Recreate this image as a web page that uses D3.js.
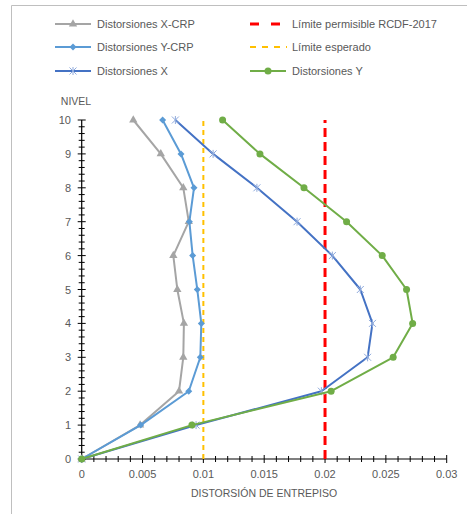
<!DOCTYPE html>
<html><head><meta charset="utf-8">
<script src="https://cdn.jsdelivr.net/npm/d3@7"></script>
<style>body{margin:0;background:#fff}svg{display:block}text{font-family:"Liberation Sans",Arial,sans-serif;fill:#595959}</style>
</head><body><div id="chart"></div>
<script>
const levels = [0,1,2,3,4,5,6,7,8,9,10];
const distXCRP = [0,0.0048,0.0080,0.00835,0.0084,0.00786,0.00753,0.0088,0.00835,0.0065,0.00424];
const distYCRP = [0,0.00485,0.0088,0.00975,0.00983,0.0095,0.00912,0.00885,0.00923,0.00816,0.00665];
const distX = [0,0.0094,0.0197,0.0235,0.0239,0.0229,0.0206,0.0177,0.0144,0.0108,0.0077];
const distY = [0,0.00906,0.0205,0.0256,0.0272,0.0267,0.0247,0.02177,0.01827,0.01465,0.01158];
const limitRCDF = [0.02,0.02];
const limitExpected = [0.01,0.01];
const limitLevels = [0,10];
const xTicks = [0,0.005,0.01,0.015,0.02,0.025,0.03];
const yTicks = [0,1,2,3,4,5,6,7,8,9,10];
const seriesNames = ["Distorsiones X-CRP","Distorsiones Y-CRP","Distorsiones X","Distorsiones Y","Límite permisible RCDF-2017","Límite esperado"];

const W=469,H=514;
const svg=d3.select("#chart").append("svg").attr("width",W).attr("height",H);
svg.append("path").attr("d","M11.5,514V5.5H467").attr("fill","none").attr("stroke","#bfbfbf").attr("stroke-width",1);

const x=d3.scaleLinear().domain([0,0.03]).range([81.7,446.7]);
const y=d3.scaleLinear().domain([0,10]).range([459,120]);

// axes
const ax=svg.append("g");
ax.append("line").attr("x1",x(0)).attr("x2",x(0.03)).attr("y1",y(0)).attr("y2",y(0)).attr("stroke","#000").attr("stroke-width",1.2);
ax.append("line").attr("x1",x(0)).attr("x2",x(0)).attr("y1",y(0)).attr("y2",y(10)).attr("stroke","#000").attr("stroke-width",1.2);
const xMinor=d3.range(0,31).map(i=>i*0.001);
ax.selectAll(".xm").data(xMinor).join("line").attr("x1",d=>x(d)).attr("x2",d=>x(d))
  .attr("y1",(d,i)=>y(0)-(i%5===0?4:3)).attr("y2",(d,i)=>y(0)+(i%5===0?4:3)).attr("stroke","#000").attr("stroke-width",1);
const yMinor=d3.range(0,51).map(i=>i*0.2);
ax.selectAll(".ym").data(yMinor).join("line").attr("y1",d=>y(d)).attr("y2",d=>y(d))
  .attr("x1",(d,i)=>x(0)-(i%5===0?4:3)).attr("x2",(d,i)=>x(0)+(i%5===0?4:3)).attr("stroke","#000").attr("stroke-width",1);
ax.selectAll(".xl").data(xTicks).join("text").attr("x",d=>x(d)).attr("y",478).attr("text-anchor","middle")
  .attr("font-size","11px").text(d=>d3.format("~g")(d));
ax.selectAll(".yl").data(yTicks).join("text").attr("x",71).attr("y",d=>y(d)+4).attr("text-anchor","end")
  .attr("font-size","11px").text(d=>d);
svg.append("text").attr("x",76).attr("y",105).attr("text-anchor","middle").attr("font-size","10.5px").text("NIVEL");
svg.append("text").attr("x",264).attr("y",497).attr("text-anchor","middle").attr("font-size","10.5px").text("DISTORSIÓN DE ENTREPISO");

// limit lines
const line=d3.line().x(d=>x(d[0])).y(d=>y(d[1]));
svg.append("path").attr("d",line(limitExpected.map((v,i)=>[v,limitLevels[i]]))).attr("fill","none")
  .attr("stroke","#ffc000").attr("stroke-width",2).attr("stroke-dasharray","5,4");
svg.append("path").attr("d",line(limitRCDF.map((v,i)=>[v,limitLevels[i]]))).attr("fill","none")
  .attr("stroke","#ff0000").attr("stroke-width",3).attr("stroke-dasharray","9,5");

const series=[
 {name:seriesNames[0],vals:distXCRP,color:"#a5a5a5",mcol:"#a5a5a5",marker:"tri"},
 {name:seriesNames[1],vals:distYCRP,color:"#5b9bd5",mcol:"#5b9bd5",marker:"dia"},
 {name:seriesNames[2],vals:distX,color:"#4472c4",mcol:"#8faadc",marker:"star"},
 {name:seriesNames[3],vals:distY,color:"#70ad47",mcol:"#70ad47",marker:"circ"}
];
function drawMarker(g,type,col){
  if(type==="tri") g.append("path").attr("d",d3.symbol(d3.symbolTriangle,30)()).attr("fill",col);
  else if(type==="dia") g.append("path").attr("d","M0,-3.5L3.5,0L0,3.5L-3.5,0Z").attr("fill",col);
  else if(type==="circ") g.append("circle").attr("r",3.5).attr("fill",col);
  else { g.append("path").attr("d","M-3.5,-3.5L3.5,3.5M-3.5,3.5L3.5,-3.5M0,-4V4").attr("stroke",col).attr("stroke-width",1); }
}
series.forEach(s=>{
  const pts=s.vals.map((v,i)=>[v,levels[i]]);
  svg.append("path").attr("d",line(pts)).attr("fill","none").attr("stroke",s.color).attr("stroke-width",2).attr("stroke-linejoin","round");
  pts.forEach(p=>{const g=svg.append("g").attr("transform",`translate(${x(p[0])},${y(p[1])})`);drawMarker(g,s.marker,s.mcol);});
});

// legend
const leg=[
 {s:series[0],lx:55,ty:24},{s:series[1],lx:55,ty:47},{s:series[2],lx:55,ty:71},
 {s:series[3],lx:250,ty:71}
];
leg.forEach(l=>{
  svg.append("line").attr("x1",l.lx).attr("x2",l.lx+36).attr("y1",l.ty).attr("y2",l.ty).attr("stroke",l.s.color).attr("stroke-width",2);
  const g=svg.append("g").attr("transform",`translate(${l.lx+18},${l.ty})`);drawMarker(g,l.s.marker,l.s.mcol);
  svg.append("text").attr("x",l.lx+42).attr("y",l.ty+4).attr("font-size","11px").text(l.s.name);
});
svg.append("line").attr("x1",250).attr("x2",280).attr("y1",24).attr("y2",24).attr("stroke","#ff0000").attr("stroke-width",3).attr("stroke-dasharray","9,12");
svg.append("text").attr("x",292).attr("y",28).attr("font-size","11px").text(seriesNames[4]);
svg.append("line").attr("x1",250).attr("x2",287).attr("y1",47).attr("y2",47).attr("stroke","#ffc000").attr("stroke-width",2).attr("stroke-dasharray","6,6");
svg.append("text").attr("x",292).attr("y",51).attr("font-size","11px").text(seriesNames[5]);
</script></body></html>
